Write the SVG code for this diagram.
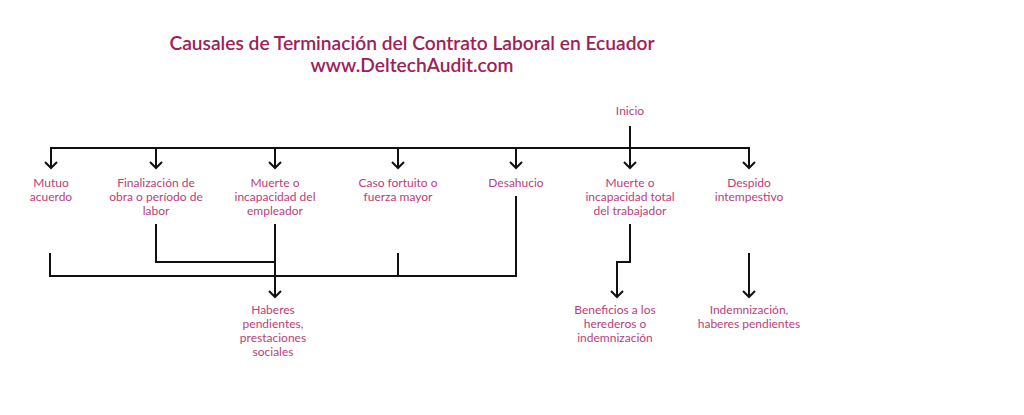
<svg xmlns="http://www.w3.org/2000/svg" width="1024" height="415" viewBox="0 0 1024 415">
<style>
.title{font-family:Lato,"Open Sans",sans-serif;font-weight:600;font-size:19.2px;fill:#9e2157;text-anchor:middle}
.lbl{font-family:Lato,"Open Sans",sans-serif;font-size:12px;fill:#b9417a;text-anchor:middle}
.ln{fill:none;stroke:#111;stroke-width:2}
</style>
<defs>
<marker id="arr" markerUnits="userSpaceOnUse" markerWidth="12" markerHeight="16" viewBox="-8 -8 10 16" refX="0" refY="0" orient="auto">
<path d="M-6,-6 L0,0 L-6,6" fill="none" stroke="#111" stroke-width="2"/>
</marker>
</defs>
<rect width="1024" height="415" fill="#fff"/>
<g id="title">
<text class="title" x="412" y="50">Causales de Terminación del Contrato Laboral en Ecuador</text>
<text class="title" x="412" y="72">www.DeltechAudit.com</text>
</g>
<g id="connectors">
<line class="ln" x1="630" y1="126" x2="630" y2="168" marker-end="url(#arr)"/>
<line class="ln" x1="50" y1="148" x2="750" y2="148"/>
<line class="ln" x1="51" y1="147" x2="51" y2="168" marker-end="url(#arr)"/>
<line class="ln" x1="156" y1="147" x2="156" y2="168" marker-end="url(#arr)"/>
<line class="ln" x1="275" y1="147" x2="275" y2="168" marker-end="url(#arr)"/>
<line class="ln" x1="398" y1="147" x2="398" y2="168" marker-end="url(#arr)"/>
<line class="ln" x1="516" y1="147" x2="516" y2="168" marker-end="url(#arr)"/>
<line class="ln" x1="749" y1="147" x2="749" y2="168" marker-end="url(#arr)"/>
<polyline class="ln" points="50,253 50,276 516,276 516,196"/>
<line class="ln" x1="398" y1="253" x2="398" y2="277"/>
<polyline class="ln" points="156,224 156,262 275,262"/>
<line class="ln" x1="275" y1="224" x2="275" y2="297" marker-end="url(#arr)"/>
<polyline class="ln" points="630,224 630,262 617,262 617,297" marker-end="url(#arr)"/>
<line class="ln" x1="749" y1="253" x2="749" y2="297" marker-end="url(#arr)"/>
</g>
<g id="inicio"><text class="lbl" x="630" y="115">Inicio</text></g>
<g id="mutuo"><text class="lbl" x="51" y="187">Mutuo</text><text class="lbl" x="51" y="201">acuerdo</text></g>
<g id="finalizacion"><text class="lbl" x="156" y="187">Finalización de</text><text class="lbl" x="156" y="201">obra o período de</text><text class="lbl" x="156" y="215">labor</text></g>
<g id="muerte-empleador"><text class="lbl" x="275" y="187">Muerte o</text><text class="lbl" x="275" y="201">incapacidad del</text><text class="lbl" x="275" y="215">empleador</text></g>
<g id="caso-fortuito"><text class="lbl" x="398" y="187">Caso fortuito o</text><text class="lbl" x="398" y="201">fuerza mayor</text></g>
<g id="desahucio"><text class="lbl" x="516" y="187">Desahucio</text></g>
<g id="muerte-trabajador"><text class="lbl" x="630" y="187">Muerte o</text><text class="lbl" x="630" y="201">incapacidad total</text><text class="lbl" x="630" y="215">del trabajador</text></g>
<g id="despido"><text class="lbl" x="749" y="187">Despido</text><text class="lbl" x="749" y="201">intempestivo</text></g>
<g id="haberes"><text class="lbl" x="273" y="314">Haberes</text><text class="lbl" x="273" y="328">pendientes,</text><text class="lbl" x="273" y="342">prestaciones</text><text class="lbl" x="273" y="356">sociales</text></g>
<g id="beneficios"><text class="lbl" x="615" y="314">Beneficios a los</text><text class="lbl" x="615" y="328">herederos o</text><text class="lbl" x="615" y="342">indemnización</text></g>
<g id="indemnizacion"><text class="lbl" x="749" y="314">Indemnización,</text><text class="lbl" x="749" y="328">haberes pendientes</text></g>
</svg>
